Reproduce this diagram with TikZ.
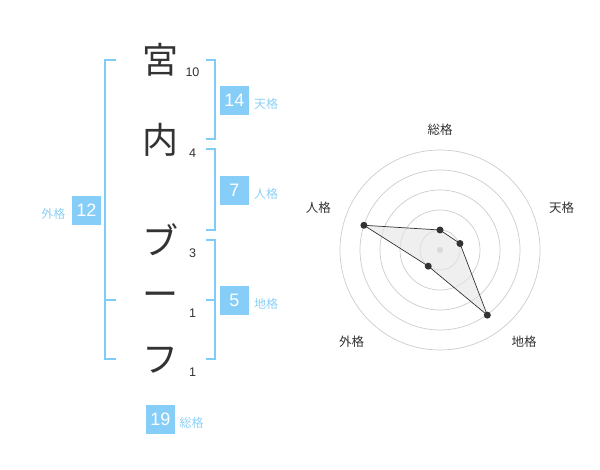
\documentclass[tikz,border=0pt]{standalone}
\usepackage{fontspec}
\setmainfont{Liberation Sans}
\newfontfamily\jp{Noto Sans CJK JP}
\definecolor{brk}{HTML}{80CCF8}
\definecolor{boxc}{HTML}{86CEF8}
\definecolor{lbl}{HTML}{8DD0F6}
\definecolor{dark}{HTML}{333333}
\definecolor{ring}{HTML}{CCCCCC}
\begin{document}
\begin{tikzpicture}[x=1pt,y=-1pt,
  brkline/.style={draw=brk, line width=2pt},
  numbox/.style={fill=boxc, text=white, minimum size=29pt, inner sep=0pt, font=\fontsize{18}{18}\selectfont},
  kaku/.style={text=lbl, inner sep=0pt, font=\jp\fontsize{12}{12}\selectfont},
  ch/.style={text=dark, inner sep=0pt, font=\jp\fontsize{36}{36}\selectfont},
  strk/.style={text=dark, inner sep=0pt, font=\fontsize{12.5}{12.5}\selectfont},
  rlab/.style={text=dark, inner sep=0pt, font=\jp\fontsize{12.5}{12.5}\selectfont},
  pt/.style={circle, fill=dark, minimum size=7pt, inner sep=0pt},
  ringc/.style={draw=ring, line width=0.7pt}]
\useasboundingbox (0,0) rectangle (600,470);
% characters
\node[ch] (c1) at (160,60) {宮};
\node[ch] (c2) at (160,140) {内};
\node[ch] (c3) at (160,240) {ブ};
\node[ch] (c4) at (160,300) {ー};
\node[ch] (c5) at (160,360) {フ};
\node[strk] (n1) at (192.5,72.7) {10};
\node[strk] (n2) at (192.5,153.3) {4};
\node[strk] (n3) at (192.5,252.7) {3};
\node[strk] (n4) at (192.5,313.3) {1};
\node[strk] (n5) at (192.5,372.7) {1};
% brackets
\draw[brkline] (116,60) -- (105,60) -- (105,359.5) -- (116,359.5);
\draw[brkline] (105,300) -- (116,300);
\draw[brkline] (205.5,60) -- (214.5,60) -- (214.5,139.5) -- (205.5,139.5);
\draw[brkline] (205.5,149.5) -- (214.5,149.5) -- (214.5,230) -- (205.5,230);
\draw[brkline] (205.5,240) -- (214.5,240) -- (214.5,359.5) -- (205.5,359.5);
\draw[brkline] (205.5,300) -- (214.5,300);
% boxes
\node[numbox] (b1) at (234.5,100.5) {14};
\node[kaku] (l1) at (266,103.5) {天格};
\node[numbox] (b2) at (234.5,190.5) {7};
\node[kaku] (l2) at (266,193.5) {人格};
\node[numbox] (b3) at (86.5,210.5) {12};
\node[kaku] (l3) at (53.3,213.5) {外格};
\node[numbox] (b4) at (234.5,300.5) {5};
\node[kaku] (l4) at (266,303.5) {地格};
\node[numbox] (b5) at (160.5,419) {19};
\node[kaku] (l5) at (191.7,422.5) {総格};
% radar
\begin{scope}[shift={(440,250)}]
  \foreach \r in {20,40,60,80,100} \draw[ringc] (0,0) circle[radius=\r];
  \fill[ring] (0,0) circle[radius=3.2];
  \coordinate (p1) at (-90:20);
  \coordinate (p2) at (-18:21);
  \coordinate (p3) at (54:80.5);
  \coordinate (p4) at (126:20);
  \coordinate (p5) at (198:80);
  \draw[fill=black!10, fill opacity=0.6, draw=dark, line width=0.7pt] (p1) -- (p2) -- (p3) -- (p4) -- (p5) -- cycle;
  \foreach \i in {1,...,5} \node[pt] (d\i) at (p\i) {};
\end{scope}
\node[rlab] (r1) at (440,130) {総格};
\node[rlab] (r2) at (561.7,208) {天格};
\node[rlab] (r3) at (524,341.7) {地格};
\node[rlab] (r4) at (351.7,341.7) {外格};
\node[rlab] (r5) at (318.3,208) {人格};
\end{tikzpicture}
\end{document}
